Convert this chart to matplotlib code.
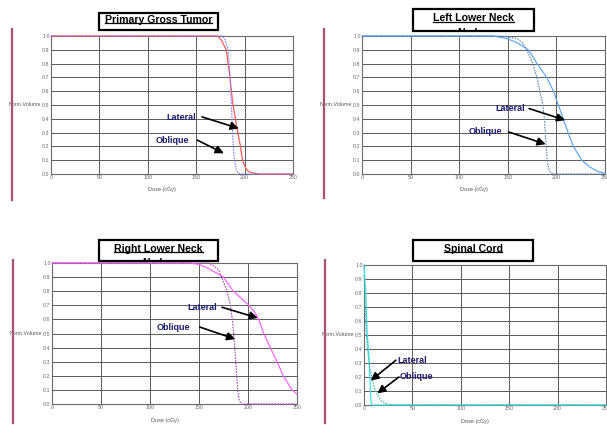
import matplotlib.pyplot as plt
from matplotlib.patches import Rectangle
from matplotlib.lines import Line2D

plt.rcParams['font.family'] = ['Liberation Sans', 'DejaVu Sans']

# ---- data (dose in cGy, normalised volume) ----
titles = ['Primary Gross Tumor', 'Left Lower Neck', 'Right Lower Neck', 'Spinal Cord']

tumor_lat_dose = [0, 172, 176, 181, 184, 188, 191, 193, 195.7, 197.8, 200, 202, 205, 209, 215, 250]
tumor_lat_vol = [1, 1, 0.97, 0.9, 0.75, 0.5, 0.38, 0.3, 0.2, 0.1, 0.06, 0.03, 0.015, 0.008, 0, 0]
tumor_obl_dose = [0, 177, 180, 183, 185, 186.4, 187.5, 188.8, 190, 191.5, 193, 195, 250]
tumor_obl_vol = [1, 1, 0.97, 0.9, 0.7, 0.5, 0.3, 0.15, 0.08, 0.03, 0.01, 0, 0]

lln_lat_dose = [0, 135, 150, 160, 171, 175, 180, 190, 197, 202, 207, 212, 217.5, 226, 234.6, 242, 250]
lln_lat_vol = [1, 1, 0.98, 0.95, 0.9, 0.86, 0.8, 0.7, 0.6, 0.5, 0.4, 0.3, 0.2, 0.1, 0.05, 0.02, 0.005]
lln_obl_dose = [0, 140, 150, 160, 165, 169.5, 175.7, 180, 183, 186, 187.7, 189.4, 190.5, 192, 194, 197, 250]
lln_obl_vol = [1, 1, 0.995, 0.98, 0.95, 0.9, 0.8, 0.7, 0.6, 0.5, 0.4, 0.2, 0.1, 0.04, 0.01, 0, 0]

rln_lat_dose = [0, 141, 150, 160, 175, 185, 193, 200.7, 206, 211, 216, 222.8, 229.6, 236, 245, 250]
rln_lat_vol = [1, 1, 0.99, 0.96, 0.9, 0.8, 0.75, 0.7, 0.66, 0.6, 0.5, 0.4, 0.3, 0.2, 0.1, 0.07]
rln_obl_dose = [0, 160, 165, 170, 173, 178.6, 182, 184, 185.4, 186.5, 187.5, 189.5, 191, 193, 250]
rln_obl_vol = [1, 1, 0.98, 0.95, 0.9, 0.8, 0.7, 0.6, 0.5, 0.4, 0.3, 0.1, 0.03, 0, 0]

cord_lat_dose = [0, 0.5, 1.7, 3.4, 5.2, 6.2, 7.2, 8, 250]
cord_lat_vol = [1, 0.93, 0.81, 0.5, 0.34, 0.17, 0.03, 0, 0]
cord_obl_dose = [0, 1, 2, 3, 4.5, 6, 8, 10, 12, 15, 18, 22, 25, 29, 250]
cord_obl_vol = [0.93, 0.75, 0.55, 0.45, 0.34, 0.26, 0.2, 0.14, 0.1, 0.06, 0.03, 0.012, 0.005, 0, 0]

# label position, arrow tail, arrow head (data coords) for Lateral / Oblique
lat_notes = [((119, 0.41), (156, 0.414), (194, 0.33)),
             ((137, 0.478), (172, 0.474), (209, 0.39)),
             ((138, 0.686), (173.5, 0.686), (210, 0.61)),
             ((34, 0.32), (33, 0.32), (6.9, 0.174))]
obl_notes = [((108, 0.24), (151, 0.246), (178.5, 0.15)),
             ((109.6, 0.31), (150.7, 0.305), (189, 0.216)),
             ((107, 0.54), (150.7, 0.546), (187, 0.46)),
             ((37, 0.207), (36, 0.2), (13.8, 0.083))]

# ---- layout in pixels ----
W, H = 607, 425
axes_px = [(51, 36, 293, 174), (362, 36, 605, 174), (52, 263, 297, 404), (364, 265, 606, 405)]
box_px = [(99, 13, 218, 30), (413, 9, 534, 31), (99, 240, 218, 261), (413, 240, 533, 261)]
bar_px = [(12, 29, 200), (324, 29, 198), (13, 260, 423), (325, 260, 423)]
has_second_line = [False, True, True, False]
lat_colors = ['#ff5a5a', '#62aaf2', '#ff66ff', '#44e0e0']
obl_colors = ['#7c7cff', '#6080b8', '#a848b8', '#38b8b8']

series = [(tumor_lat_dose, tumor_lat_vol, tumor_obl_dose, tumor_obl_vol),
          (lln_lat_dose, lln_lat_vol, lln_obl_dose, lln_obl_vol),
          (rln_lat_dose, rln_lat_vol, rln_obl_dose, rln_obl_vol),
          (cord_lat_dose, cord_lat_vol, cord_obl_dose, cord_obl_vol)]

fig = plt.figure(figsize=(W / 100, H / 100), dpi=100)
fig.patch.set_facecolor('white')

title_texts = []
for i in range(4):
    l, t, r, b = axes_px[i]
    ax = fig.add_axes([l / W, 1 - b / H, (r - l) / W, (b - t) / H])
    ax.set_facecolor('white')
    ld, lv, od, ov = series[i]
    ax.plot(ld, lv, color=lat_colors[i], lw=0.9, zorder=4, clip_on=False)
    ax.plot(od, ov, color=obl_colors[i], lw=0.8, ls=(0, (1.5, 1.0)), zorder=4, clip_on=False)
    ax.set_xlim(0, 250)
    ax.set_ylim(0, 1.0)
    ax.set_xticks([0, 50, 100, 150, 200, 250])
    ax.set_yticks([k / 10 for k in range(11)])
    ax.set_yticklabels(['%.1f' % (k / 10) for k in range(11)])
    ax.tick_params(length=0, labelsize=3.8, colors='#666666', pad=1)
    ax.grid(True, color='#5a5a5a', lw=0.7)
    ax.set_axisbelow(True)
    for s in ax.spines.values():
        s.set_color('#6a6a6a')
        s.set_linewidth(0.8)
    ax.text(-0.04, 0.5, 'Norm.Volume', transform=ax.transAxes, ha='right', va='center',
            fontsize=3.8, color='#555555')
    ax.text(0.46, -0.115, 'Dose (cGy)', transform=ax.transAxes, ha='center', va='center',
            fontsize=4, color='#555555')

    for label, notes in (('Lateral', lat_notes[i]), ('Oblique', obl_notes[i])):
        txt, tail, head = notes
        ax.annotate('', xy=head, xytext=tail,
                    arrowprops=dict(arrowstyle='-|>', color='black', lw=1.2,
                                    mutation_scale=12, shrinkA=0, shrinkB=0), zorder=5)
        ax.text(txt[0], txt[1], label, ha='left', va='center', fontsize=6.5,
                fontweight='bold', color='#1c1c6e', zorder=6)

    # maroon bar on the left
    x, y0, y1 = bar_px[i]
    fig.add_artist(Line2D([x / W, x / W], [1 - y0 / H, 1 - y1 / H], color='#a8506e', lw=1.6))

    # title box: white fill at the back, frame on top
    bl, bt, br, bb = box_px[i]
    fig.add_artist(Rectangle((bl / W, 1 - bb / H), (br - bl) / W, (bb - bt) / H,
                             facecolor='white', edgecolor='none', zorder=-3))
    fig.add_artist(Rectangle((bl / W, 1 - bb / H), (br - bl) / W, (bb - bt) / H,
                             facecolor='none', edgecolor='black', lw=1.6, zorder=5))
    cx, cy = (bl + br) / 2 / W, 1 - (bt + bb) / 2 / H
    tt = fig.text(cx, cy + 0.004, titles[i], ha='center', va='center', fontsize=7.6,
                  fontweight='bold', color='black', zorder=6)
    title_texts.append(tt)
    if has_second_line[i]:
        # second title line, only its top shows above the box edge
        fig.text(cx, 1 - (bb + 1.5) / H, 'Nodes', ha='center', va='center', fontsize=7.6,
                 fontweight='bold', color='black', zorder=-2)
        fig.add_artist(Rectangle((bl / W, 1 - t / H), (br - bl) / W, (t - bb) / H,
                                 facecolor='white', edgecolor='none', zorder=-1))

# underline the titles
fig.canvas.draw()
renderer = fig.canvas.get_renderer()
for tt in title_texts:
    ext = tt.get_window_extent(renderer)
    yl = (ext.y0 + 1.5) / H
    fig.add_artist(Line2D([ext.x0 / W, ext.x1 / W], [yl, yl], color='black', lw=0.9, zorder=7))

fig.savefig('out.png', dpi=100)
